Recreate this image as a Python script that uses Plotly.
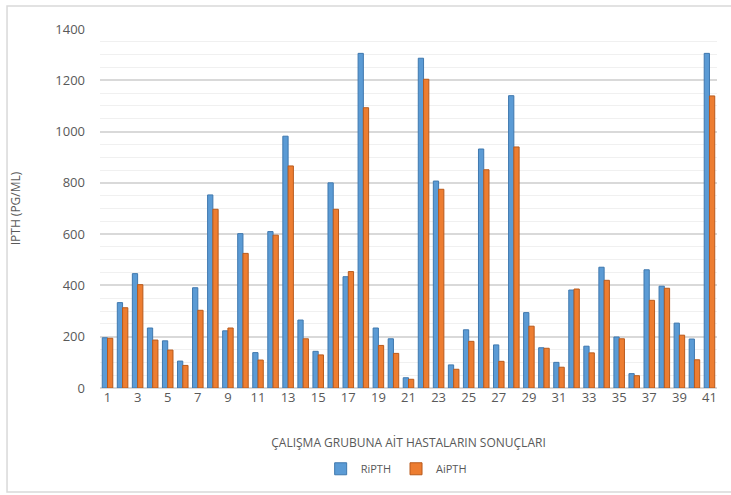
import plotly.graph_objects as go

# Patient numbers and iPTH results (pg/mL) for the study group
patients = list(range(1, 42))
ripth = [196, 333, 446, 234, 184, 105, 391, 753, 223, 602,
         138, 610, 982, 265, 143, 800, 434, 1305, 234, 192,
         40, 1286, 807, 90, 227, 932, 168, 1140, 294, 157,
         100, 382, 163, 471, 199, 56, 461, 397, 253, 191, 1305]
aipth = [194, 313, 403, 187, 148, 88, 303, 697, 234, 525,
         109, 596, 866, 192, 129, 697, 454, 1093, 166, 135,
         34, 1204, 775, 73, 182, 851, 104, 940, 241, 155,
         81, 386, 137, 420, 192, 48, 342, 389, 206, 110, 1139]
x_ticks = list(range(1, 42, 2))
y_ticks = [0, 200, 400, 600, 800, 1000, 1200, 1400]

FONT = "Open Sans"
TEXT = "#595959"

fig = go.Figure()
fig.add_trace(go.Bar(
    x=patients, y=ripth, name="RiPTH",
    marker=dict(color="#5B9BD5", line=dict(color="#3F78AE", width=1)),
))
fig.add_trace(go.Bar(
    x=patients, y=aipth, name="AiPTH",
    marker=dict(color="#ED7D31", line=dict(color="#B95A1C", width=1)),
))

# Outer chart frame
fig.add_shape(
    type="rect", xref="paper", yref="paper",
    x0=-0.1507, x1=1.05, y0=-0.2897, y1=1.064,
    line=dict(color="#D9D9D9", width=1.5), fillcolor="rgba(0,0,0,0)",
    layer="below",
)

fig.update_layout(
    width=731, height=495,
    margin=dict(l=100, r=14, t=29, b=107),
    paper_bgcolor="white", plot_bgcolor="white",
    barmode="group", bargap=0.3, bargroupgap=0.0,
    font=dict(family=FONT, color=TEXT, size=12),
    showlegend=True,
    legend=dict(
        orientation="h", x=0.48, xanchor="center", y=-0.225, yanchor="middle",
        font=dict(size=11, color=TEXT), itemwidth=30,
        traceorder="normal",
    ),
    xaxis=dict(
        range=[0.5, 41.5], tickmode="array", tickvals=x_ticks,
        ticktext=[str(v) for v in x_ticks],
        showgrid=False, zeroline=False, showline=False, ticks="",
        tickfont=dict(size=13, color=TEXT),
        title=dict(text="ÇALIŞMA GRUBUNA AİT HASTALARIN SONUÇLARI",
                   font=dict(size=12, color=TEXT), standoff=33),
    ),
    yaxis=dict(
        range=[0, 1400], tickmode="array", tickvals=y_ticks,
        showgrid=True, gridcolor="#D9D9D9", gridwidth=1.5,
        minor=dict(dtick=50, showgrid=True, gridcolor="#F0F0F0", gridwidth=1),
        zeroline=True, zerolinecolor="#D9D9D9", zerolinewidth=1.5,
        showline=False, ticks="", ticklabelstandoff=14,
        tickfont=dict(size=13, color=TEXT),
        title=dict(text="IPTH (PG/ML)", font=dict(size=12, color=TEXT), standoff=32),
    ),
)

fig.write_html("out.html")
